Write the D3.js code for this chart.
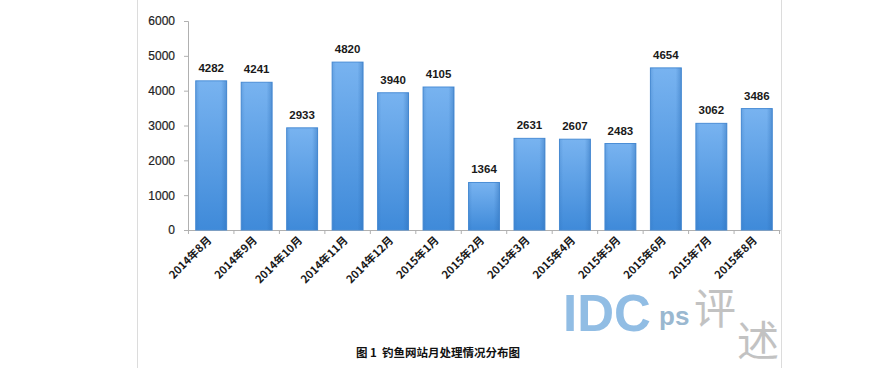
<!DOCTYPE html>
<html>
<head>
<meta charset="utf-8">
<script src="https://cdn.jsdelivr.net/npm/d3@7"></script>
<style>
  body { margin: 0; background: #fff; }
  svg text { font-family: "Noto Sans CJK SC", "Noto Sans", sans-serif; }
</style>
</head>
<body>
<div id="chart"></div>
<script>
// monthly counts
var months = ["2014年8月", "2014年9月", "2014年10月", "2014年11月", "2014年12月", "2015年1月",
              "2015年2月", "2015年3月", "2015年4月", "2015年5月", "2015年6月", "2015年7月", "2015年8月"];
var counts = [4282, 4241, 2933, 4820, 3940, 4105, 1364, 2631, 2607, 2483, 4654, 3062, 3486];
var yTicks = [0, 1000, 2000, 3000, 4000, 5000, 6000];
var caption = "图 1  钓鱼网站月处理情况分布图";

var width = 893, height = 368;

var svg = d3.select("#chart").append("svg")
    .attr("width", width)
    .attr("height", height);

var defs = svg.append("defs");
var grad = defs.append("linearGradient")
    .attr("id", "barFill")
    .attr("x1", "0").attr("y1", "0").attr("x2", "0").attr("y2", "1");
grad.append("stop").attr("offset", "0%").attr("stop-color", "#78b3f0");
grad.append("stop").attr("offset", "100%").attr("stop-color", "#3f8ad9");

var side = defs.append("linearGradient")
    .attr("id", "barSide")
    .attr("x1", "0").attr("y1", "0").attr("x2", "1").attr("y2", "0");
side.append("stop").attr("offset", "0%").attr("stop-color", "#2d6fb8").attr("stop-opacity", 0.25);
side.append("stop").attr("offset", "12%").attr("stop-color", "#2d6fb8").attr("stop-opacity", 0);
side.append("stop").attr("offset", "82%").attr("stop-color", "#2d6fb8").attr("stop-opacity", 0);
side.append("stop").attr("offset", "100%").attr("stop-color", "#2d6fb8").attr("stop-opacity", 0.45);

// frame lines on both sides
svg.append("line").attr("x1", 137.5).attr("x2", 137.5).attr("y1", 0).attr("y2", height)
    .attr("stroke", "#dcdcdc");
svg.append("line").attr("x1", 781.5).attr("x2", 781.5).attr("y1", 0).attr("y2", height)
    .attr("stroke", "#dcdcdc");

var x = d3.scaleBand()
    .domain(months)
    .range([188, 780])
    .paddingInner(0.32)
    .paddingOuter(0.17);

var y = d3.scaleLinear()
    .domain([0, 6000])
    .range([230, 21]);

// y axis
var yAxis = svg.append("g")
    .attr("transform", "translate(188,0)")
    .call(d3.axisLeft(y).tickValues(yTicks).tickSize(4).tickPadding(9).tickFormat(d3.format("d")));
yAxis.select(".domain").attr("stroke", "#b0b0b0").attr("d", "M-4,21.5H0.5V230.5H-4");
yAxis.selectAll(".tick line").attr("stroke", "#b0b0b0");
yAxis.selectAll("text").style("font-size", "12px").style("font-family", "Liberation Sans, Arial, sans-serif")
    .attr("fill", "#222").attr("stroke", "#222").attr("stroke-width", 0.2);

// x axis
var xAxis = svg.append("g")
    .attr("transform", "translate(0,230)")
    .call(d3.axisBottom(x).tickSize(0).tickFormat(""));
xAxis.select(".domain").attr("stroke", "#b0b0b0");

// small tick marks between categories
var step = x.step();
svg.selectAll(".sep")
    .data(months.concat(["end"]))
    .enter().append("line")
    .attr("class", "sep")
    .attr("x1", function(d, i) { return 188 + x.paddingOuter() * step - x.paddingInner() * step / 2 + i * step; })
    .attr("x2", function(d, i) { return 188 + x.paddingOuter() * step - x.paddingInner() * step / 2 + i * step; })
    .attr("y1", 230).attr("y2", 234)
    .attr("stroke", "#b0b0b0");

// bars
var bars = svg.append("g");
bars.selectAll("rect.bar")
    .data(counts)
    .enter().append("rect")
    .attr("class", "bar")
    .attr("x", function(d, i) { return x(months[i]); })
    .attr("y", function(d) { return y(d); })
    .attr("width", x.bandwidth())
    .attr("height", function(d) { return y(0) - y(d); })
    .attr("fill", "url(#barFill)")
    .attr("stroke", "#4b8ed6")
    .attr("stroke-width", 1);
bars.selectAll("rect.shade")
    .data(counts)
    .enter().append("rect")
    .attr("class", "shade")
    .attr("x", function(d, i) { return x(months[i]); })
    .attr("y", function(d) { return y(d); })
    .attr("width", x.bandwidth())
    .attr("height", function(d) { return y(0) - y(d); })
    .attr("fill", "url(#barSide)");

// value labels
svg.selectAll("text.val")
    .data(counts)
    .enter().append("text")
    .attr("class", "val")
    .attr("x", function(d, i) { return x(months[i]) + x.bandwidth() / 2; })
    .attr("y", function(d) { return y(d) - 9; })
    .attr("text-anchor", "middle")
    .style("font-family", "Liberation Sans, Arial, sans-serif")
    .style("font-size", "11.5px")
    .style("font-weight", "bold")
    .attr("fill", "#1a1a1a")
    .text(function(d) { return d; });

// category labels, rotated
svg.selectAll("text.cat")
    .data(months)
    .enter().append("text")
    .attr("class", "cat")
    .attr("transform", function(d) {
        return "translate(" + (x(d) + x.bandwidth() / 2 + 1) + ",241) rotate(-45)";
    })
    .attr("text-anchor", "end")
    .style("font-size", "11px")
    .style("font-weight", "bold")
    .attr("fill", "#1a1a1a")
    .text(function(d) { return d; });

// watermark
var wm = svg.append("g");
wm.append("text")
    .attr("x", 563).attr("y", 331)
    .style("font-family", "Liberation Sans, Arial, sans-serif")
    .style("font-size", "51px")
    .style("font-weight", "bold")
    .attr("fill", "#86b6e2")
    .attr("opacity", 0.9)
    .text("IDC");
wm.append("text")
    .attr("x", 659).attr("y", 325)
    .style("font-family", "Liberation Sans, Arial, sans-serif")
    .style("font-size", "26px")
    .style("font-weight", "bold")
    .attr("fill", "#9ab8d0")
    .text("ps");
wm.append("text")
    .attr("x", 694).attr("y", 324)
    .style("font-size", "42px")
    .attr("fill", "#b4b4b4")
    .attr("opacity", 0.8)
    .text("评");
wm.append("text")
    .attr("x", 737).attr("y", 356)
    .style("font-size", "42px")
    .attr("fill", "#b4b4b4")
    .attr("opacity", 0.8)
    .text("述");

// caption
svg.append("text")
    .attr("x", 356).attr("y", 357)
    .style("font-size", "11.5px")
    .style("font-weight", "bold")
    .attr("fill", "#111")
    .attr("xml:space", "preserve")
    .text(caption);
</script>
</body>
</html>
